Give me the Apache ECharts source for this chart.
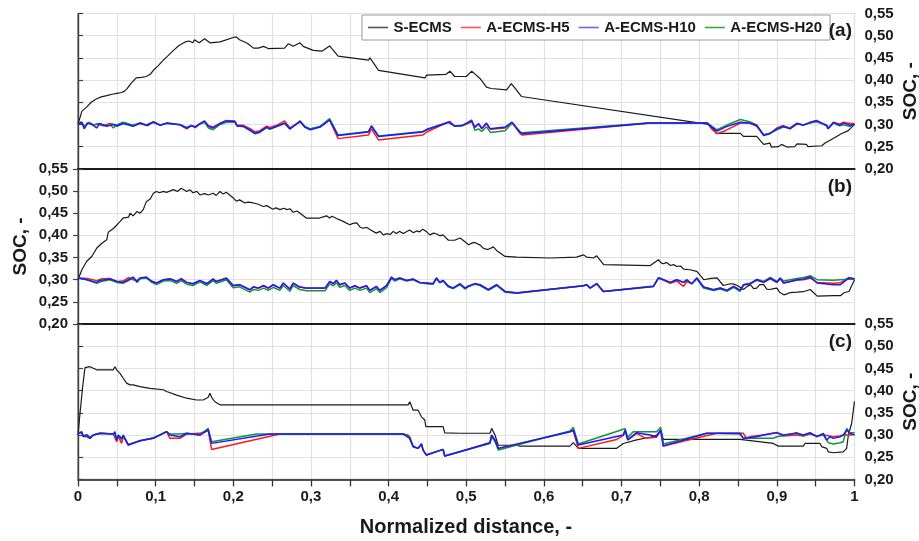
<!DOCTYPE html>
<html><head><meta charset="utf-8">
<script src="https://cdn.jsdelivr.net/npm/echarts@6/dist/echarts.min.js"></script>
<style>html,body{margin:0;padding:0;background:#fff}#c{width:919px;height:541px}</style>
</head><body><div id="c"></div>
<script>
// ---------- DATA ----------
const seriesNames = ['S-ECMS', 'A-ECMS-H5', 'A-ECMS-H10', 'A-ECMS-H20'];
const xTicks = [0, 0.1, 0.2, 0.3, 0.4, 0.5, 0.6, 0.7, 0.8, 0.9, 1];
const yTicks = [0.20, 0.25, 0.30, 0.35, 0.40, 0.45, 0.50, 0.55];
const panelLabels = ['(a)', '(b)', '(c)'];

// Panel (a)
const a_S = [[0,0.30],[0.005,0.33],[0.011,0.339],[0.017,0.35],[0.024,0.358],[0.03,0.362],[0.037,0.365],[0.044,0.368],[0.05,0.37],[0.056,0.372],[0.06,0.375],[0.063,0.38],[0.068,0.392],[0.075,0.405],[0.082,0.406],[0.088,0.408],[0.093,0.413],[0.097,0.422],[0.103,0.432],[0.11,0.445],[0.116,0.455],[0.123,0.467],[0.13,0.478],[0.138,0.486],[0.143,0.488],[0.148,0.484],[0.15,0.491],[0.156,0.484],[0.163,0.493],[0.17,0.484],[0.183,0.486],[0.2,0.496],[0.204,0.497],[0.208,0.491],[0.218,0.483],[0.226,0.472],[0.232,0.472],[0.239,0.476],[0.245,0.471],[0.266,0.472],[0.271,0.482],[0.277,0.476],[0.286,0.484],[0.29,0.476],[0.303,0.467],[0.314,0.465],[0.324,0.477],[0.335,0.454],[0.374,0.445],[0.376,0.45],[0.387,0.422],[0.447,0.405],[0.449,0.411],[0.474,0.413],[0.479,0.42],[0.485,0.408],[0.50,0.408],[0.507,0.42],[0.511,0.414],[0.518,0.403],[0.526,0.384],[0.532,0.381],[0.552,0.378],[0.558,0.392],[0.563,0.381],[0.571,0.363],[0.812,0.30],[0.818,0.29],[0.822,0.28],[0.853,0.28],[0.857,0.273],[0.874,0.273],[0.883,0.255],[0.891,0.258],[0.893,0.249],[0.902,0.25],[0.906,0.255],[0.913,0.249],[0.923,0.25],[0.926,0.256],[0.938,0.255],[0.94,0.25],[0.958,0.252],[0.962,0.258],[0.968,0.264],[0.977,0.273],[0.983,0.279],[0.992,0.286],[1.0,0.30]];
const a_H5 = [[0,0.30],[0.004,0.306],[0.008,0.294],[0.013,0.304],[0.02,0.298],[0.026,0.301],[0.032,0.297],[0.041,0.302],[0.05,0.298],[0.06,0.304],[0.071,0.297],[0.08,0.302],[0.09,0.297],[0.097,0.306],[0.106,0.298],[0.114,0.303],[0.131,0.299],[0.14,0.29],[0.146,0.297],[0.151,0.293],[0.157,0.301],[0.163,0.306],[0.168,0.297],[0.174,0.294],[0.183,0.303],[0.191,0.309],[0.202,0.307],[0.205,0.298],[0.213,0.298],[0.224,0.288],[0.228,0.283],[0.234,0.286],[0.243,0.296],[0.247,0.293],[0.256,0.298],[0.266,0.308],[0.273,0.292],[0.286,0.306],[0.292,0.294],[0.299,0.29],[0.312,0.295],[0.324,0.31],[0.335,0.268],[0.374,0.276],[0.378,0.29],[0.387,0.265],[0.444,0.276],[0.449,0.283],[0.479,0.307],[0.485,0.296],[0.495,0.297],[0.507,0.306],[0.511,0.293],[0.516,0.301],[0.52,0.29],[0.526,0.302],[0.531,0.289],[0.55,0.292],[0.559,0.304],[0.569,0.28],[0.572,0.276],[0.737,0.303],[0.81,0.303],[0.816,0.29],[0.823,0.279],[0.835,0.287],[0.853,0.303],[0.865,0.303],[0.874,0.296],[0.883,0.276],[0.891,0.28],[0.90,0.292],[0.908,0.297],[0.917,0.292],[0.926,0.303],[0.934,0.299],[0.943,0.304],[0.951,0.306],[0.964,0.299],[0.966,0.292],[0.973,0.304],[0.981,0.301],[0.986,0.305],[0.994,0.302],[1.0,0.302]];
const a_H10 = [[0,0.30],[0.005,0.305],[0.008,0.29],[0.012,0.303],[0.018,0.30],[0.024,0.292],[0.028,0.302],[0.037,0.296],[0.046,0.30],[0.05,0.296],[0.058,0.302],[0.071,0.296],[0.08,0.303],[0.088,0.298],[0.097,0.305],[0.106,0.298],[0.114,0.303],[0.131,0.30],[0.14,0.292],[0.146,0.298],[0.151,0.294],[0.157,0.302],[0.163,0.308],[0.168,0.296],[0.174,0.292],[0.183,0.302],[0.191,0.308],[0.202,0.307],[0.205,0.296],[0.213,0.296],[0.224,0.285],[0.228,0.28],[0.234,0.283],[0.243,0.294],[0.247,0.29],[0.256,0.296],[0.266,0.303],[0.273,0.29],[0.286,0.307],[0.292,0.294],[0.299,0.288],[0.312,0.294],[0.324,0.31],[0.335,0.275],[0.374,0.283],[0.378,0.296],[0.387,0.273],[0.444,0.283],[0.449,0.288],[0.477,0.305],[0.485,0.296],[0.495,0.298],[0.507,0.308],[0.511,0.294],[0.516,0.302],[0.52,0.291],[0.526,0.303],[0.531,0.29],[0.55,0.294],[0.559,0.305],[0.569,0.283],[0.572,0.279],[0.737,0.303],[0.81,0.303],[0.816,0.294],[0.823,0.285],[0.835,0.295],[0.853,0.305],[0.865,0.303],[0.874,0.298],[0.883,0.275],[0.891,0.279],[0.90,0.29],[0.908,0.296],[0.917,0.29],[0.926,0.302],[0.934,0.298],[0.943,0.305],[0.951,0.309],[0.964,0.298],[0.966,0.29],[0.973,0.305],[0.981,0.298],[0.986,0.303],[0.994,0.298],[1.0,0.30]];
const a_H20 = [[0,0.30],[0.005,0.304],[0.009,0.295],[0.014,0.305],[0.02,0.299],[0.026,0.302],[0.034,0.297],[0.042,0.299],[0.0455,0.292],[0.05,0.299],[0.058,0.305],[0.071,0.298],[0.08,0.304],[0.088,0.299],[0.097,0.306],[0.106,0.299],[0.114,0.302],[0.131,0.299],[0.14,0.293],[0.146,0.297],[0.151,0.295],[0.157,0.301],[0.163,0.305],[0.168,0.292],[0.174,0.288],[0.183,0.3],[0.191,0.305],[0.202,0.305],[0.205,0.297],[0.213,0.295],[0.224,0.283],[0.228,0.279],[0.234,0.282],[0.243,0.293],[0.247,0.289],[0.256,0.295],[0.266,0.302],[0.273,0.29],[0.286,0.308],[0.292,0.296],[0.299,0.29],[0.312,0.296],[0.324,0.313],[0.335,0.276],[0.374,0.284],[0.378,0.297],[0.387,0.274],[0.444,0.284],[0.449,0.289],[0.477,0.305],[0.485,0.297],[0.495,0.297],[0.507,0.31],[0.511,0.287],[0.516,0.29],[0.52,0.284],[0.526,0.295],[0.531,0.282],[0.55,0.286],[0.559,0.303],[0.569,0.284],[0.572,0.281],[0.737,0.304],[0.81,0.304],[0.816,0.296],[0.823,0.288],[0.835,0.298],[0.853,0.311],[0.865,0.306],[0.874,0.299],[0.883,0.277],[0.891,0.28],[0.90,0.288],[0.908,0.294],[0.917,0.292],[0.926,0.301],[0.934,0.299],[0.943,0.303],[0.951,0.307],[0.964,0.297],[0.966,0.291],[0.973,0.303],[0.981,0.297],[0.986,0.299],[0.994,0.295],[1.0,0.302]];

// Panel (b)
const b_S = [[0,0.30],[0.005,0.3225],[0.011,0.341],[0.018,0.353],[0.024,0.371],[0.03,0.381],[0.037,0.39],[0.039,0.407],[0.046,0.416],[0.054,0.431],[0.058,0.439],[0.065,0.441],[0.067,0.45],[0.071,0.444],[0.076,0.454],[0.08,0.45],[0.084,0.458],[0.088,0.476],[0.093,0.482],[0.097,0.495],[0.101,0.499],[0.105,0.496],[0.11,0.499],[0.114,0.497],[0.123,0.503],[0.128,0.499],[0.133,0.506],[0.14,0.499],[0.144,0.503],[0.148,0.496],[0.153,0.499],[0.157,0.491],[0.163,0.494],[0.168,0.491],[0.174,0.495],[0.178,0.49],[0.183,0.499],[0.187,0.493],[0.191,0.497],[0.2,0.484],[0.204,0.477],[0.208,0.48],[0.215,0.473],[0.219,0.475],[0.226,0.473],[0.232,0.47],[0.2385,0.465],[0.243,0.467],[0.251,0.459],[0.255,0.462],[0.26,0.458],[0.265,0.461],[0.269,0.458],[0.273,0.46],[0.277,0.452],[0.282,0.455],[0.286,0.45],[0.294,0.439],[0.311,0.439],[0.32,0.444],[0.324,0.439],[0.327,0.443],[0.329,0.441],[0.333,0.438],[0.337,0.435],[0.342,0.431],[0.35,0.424],[0.354,0.427],[0.359,0.428],[0.363,0.419],[0.367,0.416],[0.372,0.418],[0.376,0.413],[0.384,0.405],[0.389,0.409],[0.393,0.401],[0.398,0.404],[0.402,0.402],[0.406,0.409],[0.41,0.404],[0.414,0.409],[0.419,0.404],[0.423,0.408],[0.427,0.412],[0.432,0.406],[0.436,0.41],[0.44,0.408],[0.444,0.414],[0.449,0.408],[0.453,0.401],[0.458,0.405],[0.462,0.403],[0.466,0.399],[0.47,0.401],[0.477,0.389],[0.485,0.389],[0.492,0.394],[0.498,0.386],[0.503,0.379],[0.508,0.383],[0.511,0.384],[0.518,0.378],[0.522,0.371],[0.528,0.368],[0.535,0.374],[0.539,0.366],[0.55,0.3525],[0.565,0.351],[0.608,0.349],[0.642,0.351],[0.651,0.356],[0.655,0.351],[0.664,0.349],[0.668,0.354],[0.677,0.334],[0.737,0.332],[0.7475,0.345],[0.751,0.338],[0.754,0.336],[0.758,0.339],[0.763,0.332],[0.767,0.334],[0.771,0.33],[0.776,0.331],[0.78,0.324],[0.788,0.3225],[0.797,0.319],[0.806,0.30],[0.815,0.303],[0.823,0.304],[0.831,0.287],[0.84,0.291],[0.845,0.29],[0.849,0.287],[0.857,0.278],[0.862,0.285],[0.866,0.289],[0.87,0.28],[0.874,0.281],[0.878,0.289],[0.883,0.289],[0.887,0.279],[0.891,0.278],[0.896,0.28],[0.9,0.281],[0.904,0.271],[0.909,0.266],[0.913,0.268],[0.917,0.271],[0.926,0.272],[0.934,0.273],[0.943,0.278],[0.952,0.263],[0.973,0.264],[0.982,0.264],[0.986,0.27],[0.993,0.274],[1.0,0.30]];
const b_H5 = [[0,0.304],[0.012,0.303],[0.024,0.298],[0.03,0.302],[0.041,0.303],[0.05,0.296],[0.058,0.297],[0.065,0.305],[0.071,0.3],[0.076,0.298],[0.08,0.304],[0.088,0.304],[0.095,0.297],[0.101,0.293],[0.11,0.3],[0.119,0.302],[0.127,0.296],[0.133,0.303],[0.14,0.294],[0.148,0.291],[0.157,0.298],[0.166,0.291],[0.174,0.302],[0.178,0.296],[0.185,0.3],[0.191,0.303],[0.2,0.287],[0.208,0.289],[0.2214,0.277],[0.2257,0.284],[0.232,0.281],[0.239,0.287],[0.245,0.281],[0.2514,0.289],[0.26,0.281],[0.2643,0.2925],[0.2728,0.279],[0.2771,0.2925],[0.2857,0.2835],[0.294,0.281],[0.318,0.281],[0.3243,0.2962],[0.3286,0.291],[0.3329,0.2985],[0.3372,0.2887],[0.3436,0.2925],[0.35,0.2812],[0.3565,0.2865],[0.363,0.2812],[0.3715,0.2865],[0.3758,0.276],[0.3844,0.285],[0.3887,0.276],[0.3973,0.2865],[0.4037,0.306],[0.408,0.3],[0.4144,0.3038],[0.423,0.2985],[0.4316,0.3015],[0.44,0.294],[0.4487,0.2925],[0.4573,0.291],[0.4616,0.3038],[0.4659,0.294],[0.4702,0.2985],[0.4766,0.285],[0.483,0.281],[0.492,0.29],[0.4984,0.281],[0.5026,0.2855],[0.5112,0.291],[0.5177,0.2887],[0.5284,0.2775],[0.5392,0.2887],[0.5499,0.2737],[0.565,0.2705],[0.6509,0.2865],[0.6552,0.2887],[0.6595,0.2812],[0.6681,0.291],[0.6766,0.2737],[0.7411,0.285],[0.7475,0.3038],[0.754,0.299],[0.7626,0.292],[0.7712,0.297],[0.7798,0.285],[0.784,0.296],[0.7905,0.291],[0.797,0.3038],[0.8056,0.2835],[0.8185,0.2775],[0.8271,0.2812],[0.8357,0.276],[0.8443,0.285],[0.8528,0.276],[0.8571,0.2887],[0.8657,0.291],[0.8743,0.299],[0.8829,0.294],[0.8915,0.302],[0.9001,0.294],[0.9044,0.302],[0.9087,0.2925],[0.9173,0.296],[0.9259,0.299],[0.9345,0.3],[0.9431,0.304],[0.9517,0.294],[0.9732,0.292],[0.9818,0.293],[0.9925,0.305],[1.0,0.302]];
const b_H10 = [[0,0.304],[0.007,0.3015],[0.024,0.294],[0.028,0.2985],[0.041,0.3015],[0.05,0.2962],[0.058,0.294],[0.065,0.3],[0.071,0.306],[0.076,0.2962],[0.08,0.3038],[0.088,0.306],[0.095,0.2962],[0.101,0.2925],[0.11,0.3],[0.119,0.3015],[0.127,0.2962],[0.133,0.3015],[0.14,0.294],[0.148,0.291],[0.157,0.2985],[0.166,0.291],[0.174,0.3015],[0.178,0.2962],[0.185,0.3],[0.191,0.3038],[0.2,0.2865],[0.208,0.2887],[0.2214,0.2775],[0.2257,0.2835],[0.232,0.2812],[0.239,0.2865],[0.245,0.2812],[0.2514,0.2887],[0.26,0.2812],[0.2643,0.2925],[0.2728,0.279],[0.2771,0.2925],[0.2857,0.2835],[0.294,0.2812],[0.318,0.2812],[0.3243,0.2962],[0.3286,0.291],[0.3329,0.2985],[0.3372,0.2887],[0.3436,0.2925],[0.35,0.2812],[0.3565,0.2865],[0.363,0.2812],[0.3715,0.2865],[0.3758,0.276],[0.3844,0.285],[0.3887,0.276],[0.3973,0.2865],[0.4037,0.306],[0.408,0.3],[0.4144,0.3038],[0.423,0.2985],[0.4316,0.3015],[0.44,0.294],[0.4487,0.2925],[0.4573,0.291],[0.4616,0.3038],[0.4659,0.294],[0.4702,0.2985],[0.4766,0.2865],[0.483,0.2812],[0.492,0.291],[0.4984,0.2812],[0.5026,0.2855],[0.5112,0.291],[0.5177,0.2887],[0.5284,0.2775],[0.5392,0.2887],[0.5499,0.2737],[0.565,0.27],[0.6509,0.2865],[0.6552,0.2887],[0.6595,0.2812],[0.6681,0.291],[0.6766,0.2737],[0.7411,0.285],[0.7475,0.3038],[0.754,0.3],[0.7626,0.294],[0.7712,0.3],[0.7798,0.294],[0.784,0.3],[0.7905,0.291],[0.797,0.3038],[0.8056,0.2835],[0.8185,0.2775],[0.8271,0.2812],[0.8357,0.276],[0.8443,0.285],[0.8528,0.276],[0.8571,0.2887],[0.8657,0.291],[0.8743,0.3],[0.8829,0.294],[0.8915,0.3038],[0.9001,0.294],[0.9044,0.3038],[0.9087,0.2925],[0.9173,0.2962],[0.9259,0.3],[0.9345,0.3015],[0.9431,0.306],[0.9517,0.2925],[0.9732,0.2887],[0.9818,0.2887],[0.9925,0.3038],[1.0,0.3015]];
const b_H20 = [[0,0.304],[0.012,0.3],[0.024,0.292],[0.03,0.296],[0.041,0.3],[0.05,0.294],[0.058,0.292],[0.065,0.298],[0.071,0.304],[0.076,0.294],[0.08,0.302],[0.088,0.304],[0.095,0.294],[0.101,0.289],[0.11,0.297],[0.119,0.298],[0.127,0.292],[0.133,0.298],[0.14,0.29],[0.148,0.287],[0.157,0.295],[0.166,0.287],[0.174,0.298],[0.178,0.292],[0.185,0.296],[0.191,0.3],[0.2,0.282],[0.208,0.284],[0.2214,0.272],[0.2257,0.278],[0.232,0.276],[0.239,0.281],[0.245,0.276],[0.2514,0.283],[0.26,0.276],[0.2643,0.287],[0.2728,0.274],[0.2771,0.287],[0.2857,0.278],[0.294,0.275],[0.318,0.275],[0.3243,0.291],[0.3286,0.286],[0.3329,0.293],[0.3372,0.283],[0.3436,0.287],[0.35,0.276],[0.3565,0.281],[0.363,0.276],[0.3715,0.281],[0.3758,0.271],[0.3844,0.28],[0.3887,0.271],[0.3973,0.282],[0.4037,0.303],[0.408,0.297],[0.4144,0.302],[0.423,0.297],[0.4316,0.3],[0.44,0.293],[0.4487,0.291],[0.4573,0.29],[0.4616,0.302],[0.4659,0.293],[0.4702,0.297],[0.4766,0.284],[0.483,0.28],[0.492,0.289],[0.4984,0.279],[0.5026,0.284],[0.5112,0.29],[0.5177,0.287],[0.5284,0.276],[0.5392,0.287],[0.5499,0.272],[0.565,0.2695],[0.6509,0.2865],[0.6552,0.2887],[0.6595,0.2812],[0.6681,0.291],[0.6766,0.2737],[0.7411,0.286],[0.7475,0.305],[0.754,0.3],[0.7626,0.294],[0.7712,0.3],[0.7798,0.294],[0.784,0.3],[0.7905,0.291],[0.797,0.302],[0.8056,0.2815],[0.8185,0.2755],[0.8271,0.279],[0.8357,0.274],[0.8443,0.283],[0.8528,0.274],[0.8571,0.288],[0.8657,0.292],[0.8743,0.301],[0.8829,0.296],[0.8915,0.305],[0.9001,0.296],[0.9044,0.304],[0.9087,0.297],[0.9173,0.3],[0.9259,0.303],[0.9345,0.305],[0.9431,0.309],[0.9517,0.3],[0.9732,0.299],[0.9818,0.3],[0.9925,0.301],[1.0,0.3015]];

// Panel (c)
const c_S = [[0,0.30],[0.0026,0.349],[0.006,0.409],[0.009,0.452],[0.0154,0.454],[0.024,0.447],[0.035,0.447],[0.0455,0.447],[0.0476,0.454],[0.0498,0.447],[0.052,0.451],[0.0541,0.439],[0.056,0.443],[0.0583,0.428],[0.0626,0.417],[0.0669,0.413],[0.0712,0.413],[0.0798,0.409],[0.0927,0.405],[0.1098,0.402],[0.112,0.404],[0.1141,0.398],[0.127,0.39],[0.1399,0.383],[0.1527,0.379],[0.1613,0.379],[0.1677,0.385],[0.1699,0.394],[0.172,0.385],[0.1763,0.375],[0.1828,0.368],[0.4251,0.368],[0.4273,0.375],[0.4316,0.356],[0.438,0.356],[0.4423,0.341],[0.4466,0.334],[0.4479,0.319],[0.4702,0.319],[0.4723,0.305],[0.4916,0.304],[0.5306,0.304],[0.5327,0.315],[0.537,0.30],[0.5413,0.277],[0.5649,0.277],[0.5692,0.275],[0.6336,0.275],[0.6379,0.283],[0.6443,0.27],[0.6937,0.27],[0.7023,0.281],[0.7194,0.289],[0.7366,0.295],[0.7452,0.30],[0.7504,0.311],[0.7538,0.29],[0.8525,0.29],[0.8954,0.281],[0.9019,0.275],[0.9341,0.275],[0.9362,0.281],[0.9556,0.281],[0.9577,0.274],[0.9642,0.27],[0.9663,0.262],[0.9685,0.264],[0.9727,0.26],[0.9856,0.262],[0.9899,0.27],[0.9921,0.30],[0.9963,0.326],[1.0,0.376]];
const c_H5 = [[0,0.3038],[0.0047,0.306],[0.0069,0.298],[0.0112,0.2962],[0.0154,0.2925],[0.0197,0.30],[0.0283,0.3038],[0.0455,0.3023],[0.0476,0.305],[0.0498,0.2849],[0.0519,0.2962],[0.0562,0.2812],[0.0583,0.2962],[0.0648,0.2774],[0.0798,0.2872],[0.097,0.2925],[0.1141,0.3075],[0.1184,0.2925],[0.1313,0.2925],[0.1399,0.3023],[0.157,0.3038],[0.1677,0.3113],[0.172,0.2676],[0.26,0.3023],[0.4187,0.3023],[0.4251,0.3],[0.4316,0.2736],[0.438,0.2699],[0.4423,0.2797],[0.4444,0.2661],[0.4487,0.2548],[0.4702,0.2676],[0.4723,0.2526],[0.4916,0.2623],[0.5306,0.2827],[0.5327,0.2985],[0.537,0.2887],[0.5413,0.2699],[0.6336,0.3075],[0.6379,0.309],[0.6443,0.2699],[0.6937,0.29],[0.7023,0.299],[0.7045,0.311],[0.708,0.289],[0.7194,0.3038],[0.7304,0.293],[0.745,0.295],[0.7504,0.3113],[0.7538,0.2752],[0.8225,0.3038],[0.8568,0.3038],[0.8611,0.2925],[0.8654,0.2962],[0.874,0.2985],[0.8826,0.3],[0.8998,0.306],[0.9083,0.298],[0.9255,0.3],[0.9341,0.298],[0.9427,0.3023],[0.9513,0.298],[0.9599,0.3],[0.9642,0.299],[0.9727,0.2962],[0.9813,0.298],[0.9856,0.3],[0.9942,0.3],[1.0,0.302]];
const c_H10 = [[0,0.3038],[0.0047,0.3075],[0.0069,0.2962],[0.0112,0.30],[0.0154,0.2925],[0.0197,0.30],[0.0283,0.3038],[0.0455,0.3023],[0.0476,0.3075],[0.0498,0.2887],[0.0519,0.30],[0.0562,0.2925],[0.0583,0.30],[0.0648,0.2774],[0.0798,0.2872],[0.097,0.2925],[0.1141,0.3075],[0.1184,0.30],[0.1313,0.2962],[0.1399,0.3038],[0.157,0.30],[0.1677,0.3113],[0.172,0.2812],[0.2471,0.3023],[0.4187,0.3023],[0.4273,0.2925],[0.4316,0.2736],[0.438,0.2699],[0.4423,0.2797],[0.4444,0.2661],[0.4487,0.2548],[0.4702,0.2676],[0.4723,0.2526],[0.4916,0.2623],[0.5306,0.2827],[0.5327,0.30],[0.537,0.2887],[0.5413,0.2699],[0.6336,0.3075],[0.6379,0.3113],[0.6443,0.2774],[0.7023,0.3],[0.7045,0.3113],[0.708,0.289],[0.7194,0.3053],[0.7366,0.30],[0.745,0.2962],[0.7504,0.3113],[0.7538,0.2752],[0.8096,0.3038],[0.8525,0.3038],[0.8568,0.2925],[0.8654,0.2947],[0.874,0.2962],[0.8826,0.30],[0.8998,0.3053],[0.9083,0.30],[0.9255,0.3038],[0.9341,0.30],[0.9427,0.3053],[0.9513,0.2962],[0.9599,0.3038],[0.9642,0.2887],[0.9685,0.2962],[0.9727,0.2925],[0.9813,0.2962],[0.9856,0.30],[0.9899,0.3113],[0.9942,0.3038],[1.0,0.30]];
const c_H20 = [[0,0.3038],[0.0047,0.305],[0.0069,0.298],[0.0112,0.301],[0.0154,0.295],[0.0197,0.30],[0.0283,0.3038],[0.0455,0.3023],[0.0476,0.306],[0.0498,0.2925],[0.0519,0.298],[0.0562,0.2887],[0.0583,0.2985],[0.0648,0.279],[0.0798,0.2872],[0.097,0.294],[0.1141,0.3075],[0.1184,0.3023],[0.1313,0.3023],[0.1399,0.3038],[0.157,0.3],[0.1677,0.315],[0.172,0.2849],[0.23,0.3023],[0.4187,0.3023],[0.4273,0.2962],[0.4316,0.2752],[0.438,0.2699],[0.4423,0.2797],[0.4444,0.2661],[0.4487,0.2548],[0.4702,0.2676],[0.4723,0.2526],[0.4916,0.2623],[0.5306,0.281],[0.5327,0.297],[0.537,0.285],[0.5413,0.2661],[0.6336,0.309],[0.6379,0.3173],[0.6443,0.2797],[0.6994,0.3113],[0.7045,0.315],[0.708,0.2947],[0.7151,0.3075],[0.7366,0.3075],[0.7452,0.3075],[0.7504,0.3173],[0.7538,0.2797],[0.8096,0.3038],[0.8525,0.3023],[0.8568,0.2925],[0.8954,0.2925],[0.8998,0.2962],[0.9083,0.2985],[0.9255,0.3053],[0.9341,0.2985],[0.9427,0.3038],[0.9513,0.298],[0.9599,0.3],[0.9663,0.2827],[0.9727,0.2797],[0.9813,0.2827],[0.9856,0.285],[0.9899,0.315],[0.9942,0.3053],[1.0,0.305]];

// ---------- CHART ----------
const colors = {'S-ECMS':'#1a1a1a','A-ECMS-H5':'#ff1a1a','A-ECMS-H10':'#1a1aff','A-ECMS-H20':'#129438'};
const legendColors = {'S-ECMS':'#555','A-ECMS-H5':'#f55','A-ECMS-H10':'#66f','A-ECMS-H20':'#3a3'};
const FONT = 'Liberation Sans, Arial, sans-serif';
const panelData = [
  {S:a_S, H5:a_H5, H10:a_H10, H20:a_H20},
  {S:b_S, H5:b_H5, H10:b_H10, H20:b_H20},
  {S:c_S, H5:c_H5, H10:c_H10, H20:c_H20}
];
const L = 78, R = 64.5, H = 155.3, T0 = 13.5;
const grids = [0,1,2].map(i => ({left:L, right:R, top:T0 + i*H, height:H, show:true, borderColor:'#333', borderWidth:1, containLabel:false}));
const fmtY = v => v.toFixed(2).replace('.', ',');
const fmtX = v => {
  const hit = xTicks.find(t => Math.abs(t - v) < 1e-6);
  if (hit === undefined) return '';
  return String(hit).replace('.', ',');
};
const xAxes = [0,1,2].map(i => ({
  type:'value', gridIndex:i, min:0, max:1, interval:0.05,
  axisLine:{show:true, onZero:false, lineStyle:{color:'#1a1a1a', width: i<2 ? 2.2 : 1.6}},
  axisTick:{show:i===2, length:7, inside:false, lineStyle:{color:'#333', width:1.3}},
  axisLabel:{show:i===2, formatter:fmtX, fontFamily:FONT, fontWeight:'bold', fontSize:15, color:'#1a1a1a', margin:10, showMinLabel:true, showMaxLabel:true},
  splitLine:{show:true, lineStyle:{color:'#e2e2e2', width:1.2}}
}));
const yAxes = [0,1,2].map(i => ({
  type:'value', gridIndex:i, min:0.2, max:0.55, interval:0.05,
  position: i===1 ? 'left' : 'right',
  axisLine:{show:true, lineStyle:{color:'#444', width:1.4}},
  axisTick:{show:true, length:5, inside:false, lineStyle:{color:'#444', width:1.2}},
  axisLabel:{show:true, formatter:fmtY, fontFamily:FONT, fontWeight:'bold', fontSize:15, color:'#1a1a1a', margin:10, showMinLabel:true, showMaxLabel:true},
  splitLine:{show:true, lineStyle:{color:'#e2e2e2', width:1.2}}
}));
const order = [['S','S-ECMS'],['H5','A-ECMS-H5'],['H20','A-ECMS-H20'],['H10','A-ECMS-H10']];
const series = [];
panelData.forEach((pd, i) => {
  order.forEach(([k, name]) => {
    series.push({
      type:'line', name, xAxisIndex:i, yAxisIndex:i, data:pd[k],
      showSymbol:false, symbol:'none', smooth:false,
      lineStyle:{color:colors[name], width: k==='S' ? 1.2 : 1.5},
      itemStyle:{color:colors[name]},
      animation:false, silent:true
    });
  });
});
const graphics = [];
panelLabels.forEach((t, i) => {
  graphics.push({type:'text', right:919-852, top: T0 + i*H + 8, z:100,
    style:{text:t, font:'bold 19px ' + FONT, fill:'#1a1a1a'}});
});
const yNames = [
  {x:911, y:T0 + 0.5*H}, {x:21, y:T0 + 1.5*H}, {x:911, y:T0 + 2.5*H}
];
yNames.forEach(p => graphics.push({type:'text', x:p.x, y:p.y, rotation:Math.PI/2, z:100,
  style:{text:'SOC, -', font:'bold 19px ' + FONT, fill:'#1a1a1a', align:'center', verticalAlign:'middle'}}));
graphics.push({type:'text', x:466, y:527, z:100,
  style:{text:'Normalized distance, -', font:'bold 20px ' + FONT, fill:'#1a1a1a', align:'center', verticalAlign:'middle'}});

const chart = echarts.init(document.getElementById('c'), null, {renderer:'canvas'});
chart.setOption({
  animation:false,
  backgroundColor:'#fff',
  grid:grids, xAxis:xAxes, yAxis:yAxes, series,
  legend:{
    data:seriesNames.map(n => ({name:n, icon:'path://M0,0 L100,0 L100,8 L0,8 Z', itemStyle:{color:legendColors[n]}})),
    left:362, top:15, itemWidth:21, itemHeight:1.6, itemGap:9,
    padding:[5,8,5,6], borderColor:'#999', borderWidth:1, backgroundColor:'#fff',
    textStyle:{fontFamily:FONT, fontWeight:'bold', fontSize:15, color:'#1a1a1a'},
    selectedMode:false, z:50
  },
  graphic:graphics
});
</script></body></html>
